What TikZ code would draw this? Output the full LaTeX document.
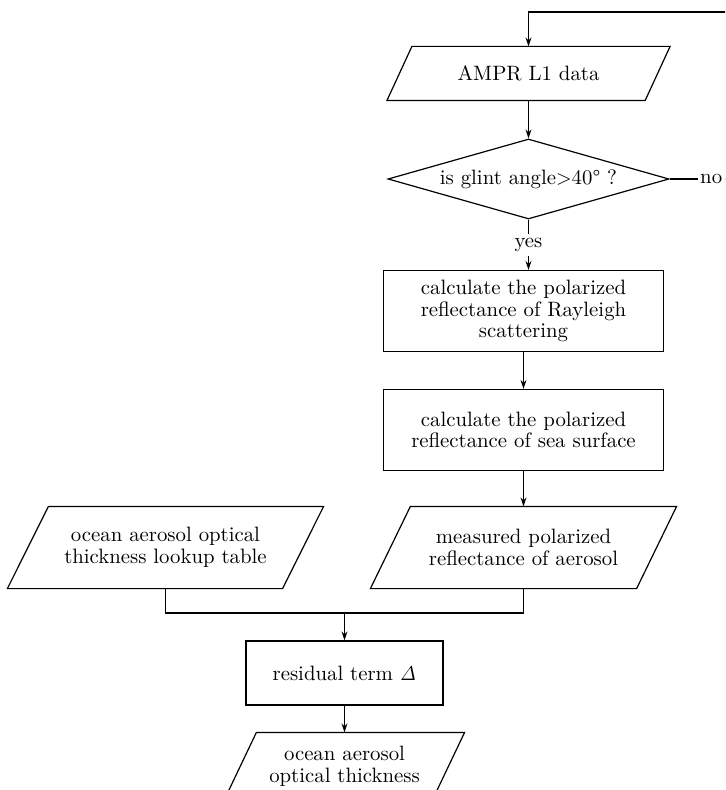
\documentclass[tikz,border=0pt]{standalone}
\usetikzlibrary{shapes.geometric,positioning,arrows.meta,calc}

\begin{document}
\begin{tikzpicture}[node distance=2cm,on grid,auto,>={Stealth[length=4.5pt,width=3pt]},line width=0.6pt,
  every node/.style={font=\fontsize{10.4}{10.8}\selectfont,align=center},
  io/.style={rectangle,minimum height=40.5pt,inner sep=1pt,
    append after command={\pgfextra{\draw ([xshift=-#1]\tikzlastnode.south west) -- ([xshift=#1]\tikzlastnode.north west)
      -- ([xshift=#1]\tikzlastnode.north east) -- ([xshift=-#1]\tikzlastnode.south east) -- cycle;}}},
  proc/.style={draw,rectangle,minimum width=140pt,minimum height=40.5pt,inner sep=1pt},
  test/.style={draw,diamond,aspect=3.5,minimum width=140.5pt,minimum height=40pt,inner sep=1pt}]
   \clip (-264.25pt,-358.25pt) rectangle (98.25pt,36.75pt);
   \node[io=6.25pt,minimum width=128.5pt,minimum height=26.5pt] (l1) {AMPR L1 data};
   \node[test] (glint) [below=52.75pt of l1] {is glint angle$>$40° ?};
   \node[inner sep=2pt] (yes) [below=33pt of glint] {yes};
   \node[proc] (rayl) [below=66pt of glint,xshift=-2.5pt] {calculate the polarized\\reflectance of Rayleigh\\scattering};
   \node[proc] (sea) [below=59.5pt of rayl] {calculate the polarized\\reflectance of sea surface};
   \node[io=10pt,minimum width=132.5pt] (meas) [below=58.75pt of sea] {measured polarized\\reflectance of aerosol};
   \node[io=10.25pt,minimum width=137pt] (lut) [left=179pt of meas] {ocean aerosol optical\\thickness lookup table};
   \coordinate (join) at ($(lut)!0.5!(meas)+(0,-32.75pt)$);
   \node[proc,minimum width=98.5pt,minimum height=32pt] (resid) at ($(join)+(0,-30pt)$) {residual term $\mathit{\Delta}$};
   \node[io=8pt,minimum width=103.5pt,minimum height=33pt] (aot) [below=46.5pt of resid] {ocean aerosol\\optical thickness};
   \node[anchor=west,inner sep=1pt] (no) at ($(glint.east)+(14pt,0)$) {no};
   \coordinate (back) at ($(no.east)+(20pt,83.5pt)$);
   \draw (glint) -- (no);
   \draw[->] (no.east) -| (back) -| (l1);
   \draw[->] (l1) -- (glint);
   \draw (glint) -- (yes);
   \draw[->] (yes) -- (yes |- rayl.north);
   \draw[->] (rayl) -- (sea);
   \draw[->] (sea) -- (meas);
   \draw (lut) -- (lut |- join) -- (meas |- join) -- (meas);
   \draw[->] (join) -- (resid);
   \draw[->] (resid) -- (aot);
\end{tikzpicture}
\end{document}
